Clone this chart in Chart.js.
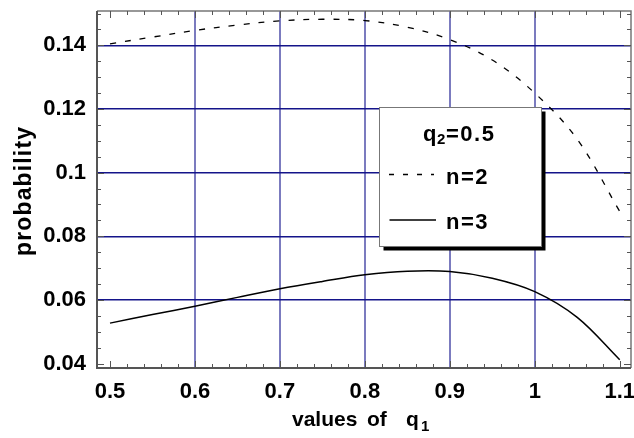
<!DOCTYPE html>
<html>
<head>
<meta charset="utf-8">
<script src="https://cdn.jsdelivr.net/npm/chart.js@4.4.1/dist/chart.umd.min.js"></script>
<style>
html,body{margin:0;padding:0;background:#fff;}
#wrap{width:634px;height:438px;}
</style>
</head>
<body>
<div id="wrap"><canvas id="c" width="634" height="438"></canvas></div>
<script>
// ---- data ----
const q1Values = [0.5, 0.55, 0.6, 0.65, 0.7, 0.75, 0.8, 0.85, 0.9, 0.95, 1.0, 1.05, 1.1];
const n2Values = [0.1405, 0.1426, 0.1447, 0.1464, 0.1477, 0.1482, 0.1478, 0.1457, 0.1418, 0.1354, 0.1250, 0.1105, 0.0878];
const n3Values = [0.0527, 0.0554, 0.0580, 0.0608, 0.0635, 0.0658, 0.0679, 0.0690, 0.0689, 0.0668, 0.0626, 0.0545, 0.0412];
const xTickValues = [0.5, 0.6, 0.7, 0.8, 0.9, 1.0, 1.1];
const xTickLabels = ['0.5', '0.6', '0.7', '0.8', '0.9', '1', '1.1'];
const yTickValues = [0.04, 0.06, 0.08, 0.1, 0.12, 0.14];
const yTickLabels = ['0.04', '0.06', '0.08', '0.1', '0.12', '0.14'];
const seriesNames = ['n=2', 'n=3'];
const legendTitle = {main: 'q', sub: '2', rest: '=0.5'};
const xTitle = {words: ['values', 'of', 'q'], sub: '1'};
const yTitle = 'probability';

const FONT = '"Liberation Sans", Arial, Helvetica, sans-serif';

function toPts(xs, ys) { return xs.map((x, i) => ({x: x, y: ys[i]})); }

const decor = {
  id: 'decor',
  afterDraw(chart) {
    const ctx = chart.ctx;
    const a = chart.chartArea;
    const xs = chart.scales.x, ys = chart.scales.y;
    ctx.save();
    // frame
    ctx.strokeStyle = '#777';
    ctx.lineWidth = 1.5;
    ctx.beginPath();
    ctx.moveTo(a.left, a.top); ctx.lineTo(a.right, a.top); ctx.lineTo(a.right, a.bottom);
    ctx.stroke();
    ctx.strokeStyle = '#555';
    ctx.lineWidth = 2;
    ctx.beginPath();
    ctx.moveTo(a.left, a.top); ctx.lineTo(a.left, a.bottom); ctx.lineTo(a.right, a.bottom);
    ctx.stroke();
    // inward ticks
    ctx.strokeStyle = '#555';
    ctx.lineWidth = 1;
    ctx.beginPath();
    for (let k = 0; k <= 30; k++) {
      const v = 0.5 + k * 0.02;
      const px = Math.round(xs.getPixelForValue(v)) + 0.5;
      const len = (k % 5 === 0) ? 7 : 4;
      ctx.moveTo(px, a.bottom); ctx.lineTo(px, a.bottom - len);
      ctx.moveTo(px, a.top); ctx.lineTo(px, a.top + len);
    }
    for (let k = 0; k <= 22; k++) {
      const v = 0.04 + k * 0.005;
      if (v > ys.max) break;
      const py = Math.round(ys.getPixelForValue(v)) + 0.5;
      const len = (k % 4 === 0) ? 7 : 4;
      ctx.moveTo(a.left, py); ctx.lineTo(a.left + len, py);
      ctx.moveTo(a.right, py); ctx.lineTo(a.right - len, py);
    }
    ctx.stroke();

    // y title
    ctx.fillStyle = '#000';
    ctx.font = 'bold 23px ' + FONT;
    const wPlain = ctx.measureText(yTitle).width;
    const target = 129;
    const ls = (target - wPlain) / (yTitle.length - 1);
    ctx.save();
    ctx.translate(31, (a.top + a.bottom) / 2 + 2);
    ctx.rotate(-Math.PI / 2);
    ctx.textAlign = 'left';
    ctx.textBaseline = 'alphabetic';
    let cx = -target / 2;
    for (const ch of yTitle) {
      ctx.fillText(ch, cx, 0);
      cx += ctx.measureText(ch).width + ls;
    }
    ctx.restore();

    // x title
    const mid = (a.left + a.right) / 2;
    ctx.font = 'bold 21px ' + FONT;
    ctx.textAlign = 'left';
    ctx.textBaseline = 'alphabetic';
    const offs = [-72, 3, 42];
    xTitle.words.forEach((w, i) => ctx.fillText(w, mid + offs[i], 426));
    ctx.font = 'bold 15px ' + FONT;
    ctx.fillText(xTitle.sub, mid + 57, 431);

    // legend
    const bx = 379.5, by = 107.5, bw = 162, bh = 139;
    ctx.fillStyle = '#000';
    ctx.fillRect(bx + 4, by + 4, bw, bh);
    ctx.fillStyle = '#fff';
    ctx.fillRect(bx, by, bw, bh);
    ctx.strokeStyle = '#777';
    ctx.lineWidth = 1;
    ctx.strokeRect(bx, by, bw, bh);

    ctx.fillStyle = '#000';
    ctx.font = 'bold 22px ' + FONT;
    ctx.fillText(legendTitle.main, 423, 141);
    ctx.font = 'bold 15px ' + FONT;
    ctx.fillText(legendTitle.sub, 437, 144);
    ctx.font = 'bold 22px ' + FONT;
    if ('letterSpacing' in ctx) ctx.letterSpacing = '1.5px';
    ctx.fillText(legendTitle.rest, 446, 141);
    ctx.fillText(seriesNames[0], 446, 184);
    ctx.fillText(seriesNames[1], 446, 228.5);
    if ('letterSpacing' in ctx) ctx.letterSpacing = '0px';

    ctx.strokeStyle = '#000';
    ctx.lineWidth = 1.3;
    ctx.setLineDash([5, 9]);
    ctx.beginPath(); ctx.moveTo(389, 174.5); ctx.lineTo(434, 174.5); ctx.stroke();
    ctx.setLineDash([]);
    ctx.lineWidth = 1.5;
    ctx.beginPath(); ctx.moveTo(389.5, 220); ctx.lineTo(436, 220); ctx.stroke();
    ctx.restore();
  }
};

function interiorColor(vals, col) {
  return (c) => {
    const v = c.tick ? c.tick.value : null;
    if (v === null) return 'rgba(0,0,0,0)';
    const first = vals[0], last = vals[vals.length - 1];
    if (Math.abs(v - first) < 1e-9 || Math.abs(v - last) < 1e-9) return 'rgba(0,0,0,0)';
    return col;
  };
}

function zeroPad(s) { s.paddingTop = 0; s.paddingBottom = 0; s.paddingLeft = 0; s.paddingRight = 0; }

new Chart(document.getElementById('c'), {
  type: 'line',
  data: {
    datasets: [
      {label: seriesNames[0], data: toPts(q1Values, n2Values), borderColor: '#000', borderWidth: 1.3,
       borderDash: [6, 9], pointRadius: 0, fill: false, tension: 0.35},
      {label: seriesNames[1], data: toPts(q1Values, n3Values), borderColor: '#000', borderWidth: 1.5,
       pointRadius: 0, fill: false, tension: 0.35}
    ]
  },
  options: {
    responsive: false,
    animation: false,
    layout: {padding: {top: 11, right: 3, left: 0, bottom: 0}},
    plugins: {legend: {display: false}, tooltip: {enabled: false}},
    scales: {
      x: {
        type: 'linear', min: 0.4847, max: 1.1133,
        afterBuildTicks: (s) => { s.ticks = xTickValues.map(v => ({value: v})); },
        afterFit: (s) => { s.height = 70; zeroPad(s); },
        ticks: {
          callback: (v) => { const i = xTickValues.findIndex(t => Math.abs(t - v) < 1e-9); return i >= 0 ? xTickLabels[i] : ''; },
          font: {family: FONT, size: 22, weight: 'bold'}, color: '#000', padding: 11, maxRotation: 0, autoSkip: false
        },
        grid: {color: interiorColor(xTickValues, '#7b7bbf'), lineWidth: 2, drawTicks: false},
        border: {display: false}
      },
      y: {
        type: 'linear', min: 0.0386, max: 0.1508,
        afterBuildTicks: (s) => { s.ticks = yTickValues.map(v => ({value: v})); },
        afterFit: (s) => { s.width = 97; zeroPad(s); },
        ticks: {
          callback: (v) => { const i = yTickValues.findIndex(t => Math.abs(t - v) < 1e-9); return i >= 0 ? yTickLabels[i] : ''; },
          font: {family: FONT, size: 22, weight: 'bold'}, color: '#000', padding: 11, autoSkip: false
        },
        grid: {color: interiorColor([0.04, 0.2], '#14148a'), lineWidth: 1.4, drawTicks: false},
        border: {display: false}
      }
    }
  },
  plugins: [decor]
});
</script>
</body>
</html>
